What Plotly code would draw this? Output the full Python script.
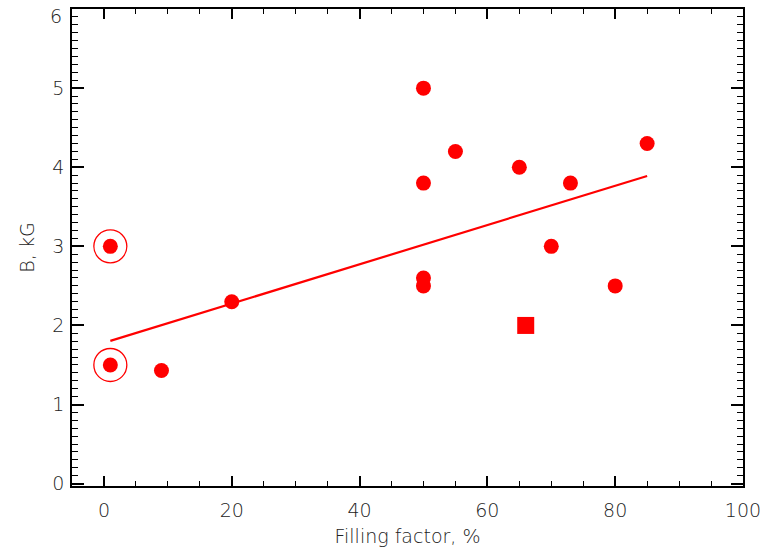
import plotly.graph_objects as go

# Data (filling factor %, B in kG)
ff = [1, 1, 9, 20, 50, 50, 50, 50, 55, 65, 70, 73, 80, 85]
b = [3.0, 1.5, 1.43, 2.3, 5.0, 3.8, 2.6, 2.5, 4.2, 4.0, 3.0, 3.8, 2.5, 4.3]
ring_ff = [1, 1]
ring_b = [3.0, 1.5]
sq_ff = [66]
sq_b = [2.0]
fit_x = [1, 85]
fit_y = [1.805, 3.89]
x_ticks = [0, 20, 40, 60, 80, 100]
y_ticks = [0, 1, 2, 3, 4, 5, 6]
y_ticktext = ["0", "1", "2", "3", "4", "5", ""]   # top label "6" drawn as annotation (kept inside page)

RED = "#ff0000"
FONT = dict(family="DejaVu Sans", size=19, color="#222222", weight=200)

fig = go.Figure()
fig.add_trace(go.Scatter(x=fit_x, y=fit_y, mode="lines",
                         line=dict(color=RED, width=2.2), showlegend=False))
fig.add_trace(go.Scatter(x=ff, y=b, mode="markers",
                         marker=dict(symbol="circle", size=15, color=RED, line=dict(width=0)),
                         showlegend=False))
fig.add_trace(go.Scatter(x=ring_ff, y=ring_b, mode="markers",
                         marker=dict(symbol="circle-open", size=33, color=RED, line=dict(width=1.3, color=RED)),
                         showlegend=False))
fig.add_trace(go.Scatter(x=sq_ff, y=sq_b, mode="markers",
                         marker=dict(symbol="square", size=17, color=RED, line=dict(width=0)),
                         showlegend=False))

axis_common = dict(showgrid=False, zeroline=False, showline=True, linecolor="black",
                   linewidth=1.5, mirror="ticks", ticks="inside", tickcolor="black",
                   tickfont=FONT, automargin=False, ticklabeloverflow="allow")

fig.update_xaxes(range=[-5, 100.001], tickvals=x_ticks, ticklen=10, tickwidth=1.5,
                 ticklabelstandoff=6,
                 minor=dict(dtick=5, tick0=0, ticks="inside", ticklen=5, tickcolor="black", tickwidth=1.2),
                 title=dict(text="Filling factor, %", font=FONT, standoff=10),
                 **axis_common)
fig.update_yaxes(range=[-0.03, 6.001], tickvals=y_ticks, ticktext=y_ticktext, ticklen=12, tickwidth=1.5,
                 ticklabelstandoff=2,
                 minor=dict(dtick=0.1, tick0=0, ticks="inside", ticklen=6, tickcolor="black", tickwidth=1.2),
                 title=dict(text="B, kG", font=FONT, standoff=13),
                 **axis_common)

fig.add_annotation(text=str(y_ticks[-1]), xref="paper", x=0, xanchor="right", xshift=-8,
                   yref="y", y=y_ticks[-1], yanchor="middle", yshift=-7,
                   showarrow=False, font=FONT)

fig.update_layout(width=765, height=553, margin=dict(l=72, r=22, t=9, b=67),
                  plot_bgcolor="white", paper_bgcolor="white", font=FONT)

fig.write_html("out.html", config={"displayModeBar": False},
               post_script="document.body.style.margin='0';document.body.style.padding='0';")
